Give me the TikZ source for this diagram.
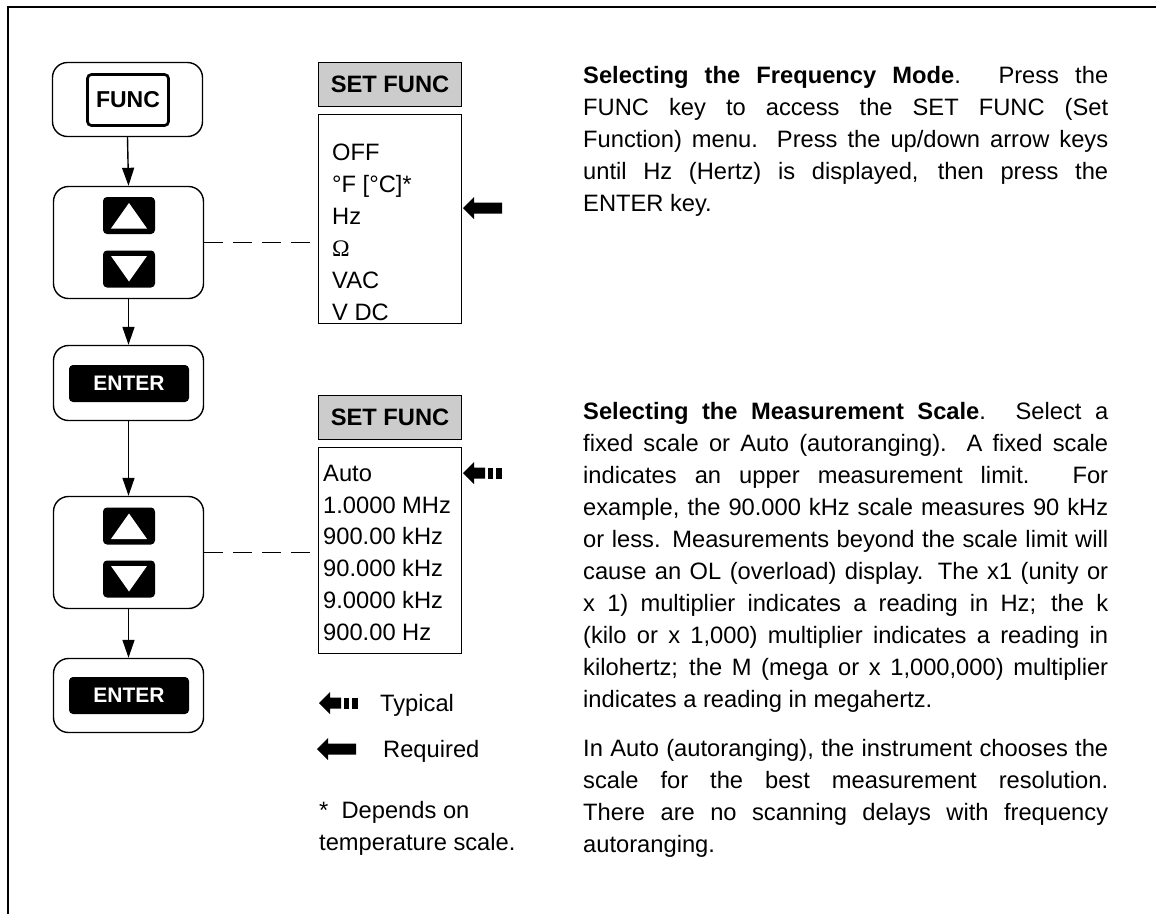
\documentclass[tikz,border=0pt]{standalone}
\usepackage{fontspec}
\setmainfont{Liberation Sans}
\newfontfamily\omegafont{Liberation Serif}
\usetikzlibrary{arrows.meta}
\newcommand\jline[1]{\hbox to 525pt{\strut #1}}
\newcommand\nline[1]{\hbox{\strut #1}}
\tikzset{
  outerbox/.style={draw, rounded corners=15pt, line width=1.4pt, minimum width=150pt, inner sep=0pt},
  keybox/.style={fill=black, rounded corners=4pt, inner sep=0pt, minimum width=52pt, minimum height=37pt},
  enterkey/.style={fill=black, rounded corners=4pt, inner sep=0pt, minimum width=120pt, minimum height=37pt, text=white, font=\bfseries\fontsize{21}{25}\selectfont},
  funckey/.style={draw, line width=2.7pt, rounded corners=4pt, inner sep=0pt, minimum width=81pt, minimum height=51pt, font=\bfseries\fontsize{23}{28}\selectfont},
  menubox/.style={draw, line width=1.4pt, minimum width=143pt, inner sep=0pt},
  menuhead/.style={menubox, fill=black!20, font=\bfseries\fontsize{23.7}{28}\selectfont},
  flow/.style={line width=1.4pt, -{Triangle[length=18pt,width=12pt]}},
  link/.style={line width=1.4pt, dash pattern=on 19pt off 10pt},
  body/.style={font=\fontsize{23.7}{32}\selectfont, inner sep=0pt},
  para/.style={body, anchor=north west},
  reqarrow/.pic={\fill (0,0) -- (11,-11) -- (11,-5.5) -- (39,-5.5) -- (39,5.5) -- (11,5.5) -- (11,11) -- cycle;},
  typarrow/.pic={\fill (0,0) -- (11,-11) -- (11,-5.5) -- (22,-5.5) -- (22,5.5) -- (11,5.5) -- (11,11) -- cycle;
                 \fill (25,-5.5) rectangle (30,5.5);
                 \fill (33,-5.5) rectangle (39,5.5);}
}
\begin{document}
\begin{tikzpicture}[x=1pt,y=-1pt]
\useasboundingbox (0,0) rectangle (1156,914);
% frame
\draw[line width=2pt] (8,914) -- (8,7) -- (1156,7);

% left flow boxes
\node[outerbox, minimum height=74pt] (b1) at (127.5,99.5) {};
\node[outerbox, minimum height=112pt] (b2) at (128.5,242.5) {};
\node[outerbox, minimum height=75pt] (b3) at (128.5,383) {};
\node[outerbox, minimum height=112pt] (b4) at (128.5,552.5) {};
\node[outerbox, minimum height=74pt] (b5) at (128.5,695.5) {};

% keys
\node[funckey] (kf) at (128,100) {FUNC};
\node[keybox] (u1) at (129,215.5) {};
\node[keybox] (d1) at (129,269) {};
\node[enterkey] (e1) at (129,383.5) {ENTER};
\node[keybox] (u2) at (129,526) {};
\node[keybox] (d2) at (129,579) {};
\node[enterkey] (e2) at (129,695.5) {ENTER};
\foreach \k in {u1,u2}{\fill[white, shift={(\k.center)}] (0,-12.5) -- (18,13) -- (-18,13) -- cycle;}
\foreach \k in {d1,d2}{\fill[white, shift={(\k.center)}] (0,12.5) -- (18,-13) -- (-18,-13) -- cycle;}

% flow arrows
\draw[flow] (b1.south) -- (b2.north);
\draw[flow] (b2.south) -- (b3.north);
\draw[flow] (b3.south) -- (b4.north);
\draw[flow] (b4.south) -- (b5.north);

% menus
\node[menuhead, minimum height=43.6pt] (h1) at (390,84.5) {SET FUNC};
\node[menubox, minimum height=208.6pt] (m1) at (390,219) {};
\node[menuhead, minimum height=43.6pt] (h2) at (390,417.5) {SET FUNC};
\node[menubox, minimum height=205.6pt] (m2) at (390,550.5) {};

\draw[link] (b2.east) -- (b2.east -| m1.west);
\draw[link] (b4.east) -- (b4.east -| m2.west);

% menu 1 items
\node[body, anchor=base west] (m1a) at (332,160.5) {OFF};
\node[body, anchor=base west] (m1b) at (332,192.5) {°F [°C]*};
\node[body, anchor=base west] (m1c) at (332,224.5) {Hz};
\node[body, anchor=base west] (m1d) at (332,256.5) {{\omegafont Ω}};
\node[body, anchor=base west] (m1e) at (332,288.5) {VAC};
\node[body, anchor=base west] (m1f) at (332,320.5) {V DC};

% menu 2 items
\node[body, anchor=base west] (m2a) at (323,481.5) {Auto};
\node[body, anchor=base west] (m2b) at (323,513.2) {1.0000 MHz};
\node[body, anchor=base west] (m2c) at (323,544.9) {900.00 kHz};
\node[body, anchor=base west] (m2d) at (323,576.6) {90.000 kHz};
\node[body, anchor=base west] (m2e) at (323,608.3) {9.0000 kHz};
\node[body, anchor=base west] (m2f) at (323,640) {900.00 Hz};

% selection arrows
\pic at (463,208) {reqarrow};
\pic at (463,473) {typarrow};

% legend
\pic at (319,703) {typarrow};
\node[body, anchor=base west] (lt) at (380,711.5) {Typical};
\pic at (317,749) {reqarrow};
\node[body, anchor=base west] (lr) at (383,757.5) {Required};
\node[body, anchor=base west] (ld1) at (319,818.5) {*\ \ Depends on};
\node[body, anchor=base west] (ld2) at (319,850.5) {temperature scale.};

% paragraphs
\node[para] (p1) at (583,60.5) {\vtop{%
\jline{\textbf{Selecting the Frequency Mode}.  Press the}%
\jline{FUNC key to access the SET FUNC (Set}%
\jline{Function) menu.  Press the up/down arrow keys}%
\jline{until Hz (Hertz) is displayed, then press the}%
\nline{ENTER key.}}};

\node[para] (p2) at (583,396.5) {\vtop{%
\jline{\textbf{Selecting the Measurement Scale}.  Select a}%
\jline{fixed scale or Auto (autoranging).  A fixed scale}%
\jline{indicates an upper measurement limit.  For}%
\jline{example, the 90.000 kHz scale measures 90 kHz}%
\jline{or less.  Measurements beyond the scale limit will}%
\jline{cause an OL (overload) display.  The x1 (unity or}%
\jline{x 1) multiplier indicates a reading in Hz; the k}%
\jline{(kilo or x 1,000) multiplier indicates a reading in}%
\jline{kilohertz; the M (mega or x 1,000,000) multiplier}%
\nline{indicates a reading in megahertz.}}};

\node[para] (p3) at (583,733.5) {\vtop{%
\jline{In Auto (autoranging), the instrument chooses the}%
\jline{scale for the best measurement resolution.}%
\jline{There are no scanning delays with frequency}%
\nline{autoranging.}}};
\end{tikzpicture}
\end{document}
